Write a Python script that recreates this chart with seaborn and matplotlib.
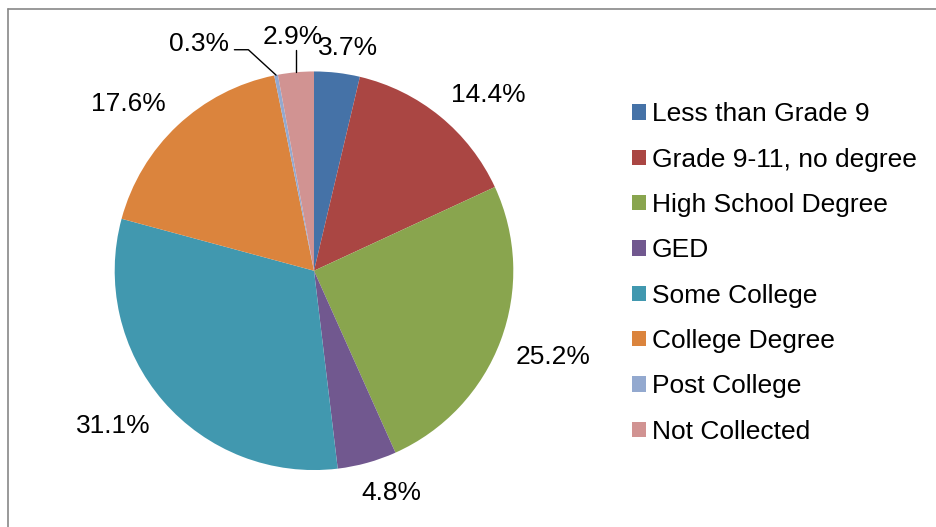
import numpy as np
import matplotlib
matplotlib.use("Agg")
import matplotlib.pyplot as plt
from matplotlib.patches import Patch
from matplotlib.lines import Line2D
import seaborn as sns

# Educational attainment shares (percent)
categories = [
    "Less than Grade 9",
    "Grade 9-11, no degree",
    "High School Degree",
    "GED",
    "Some College",
    "College Degree",
    "Post College",
    "Not Collected",
]
values = [3.7, 14.4, 25.2, 4.8, 31.1, 17.6, 0.3, 2.9]
colors = ["#4572A7", "#AA4643", "#89A54E", "#71588F",
          "#4198AF", "#DB843D", "#93A9CF", "#D19392"]

sns.set_theme(style="white")
plt.rcParams["font.family"] = ["Liberation Sans", "DejaVu Sans"]
plt.rcParams["text.color"] = "black"
label_font = ["Liberation Sans Narrow", "Liberation Sans", "DejaVu Sans"]

W, H = 936, 527
fig = plt.figure(figsize=(W / 100, H / 100), dpi=100)
fig.patch.set_facecolor("white")

# pie axes: centre and radius in pixels
cx, cy, R = 314.0, 270.75, 199.3
ax = fig.add_axes([(cx - R) / W, (H - cy - R) / H, 2 * R / W, 2 * R / H])

palette = sns.color_palette(colors)
wedges, _ = ax.pie(values, colors=palette, startangle=90, counterclock=False,
                   radius=1.0, wedgeprops=dict(linewidth=0))
ax.set_xlim(-1, 1)
ax.set_ylim(-1, 1)
ax.set_aspect("equal")
ax.axis("off")

# small slices get a leader line: (angle shift in degrees, radius, elbow)
callouts = {
    "Post College": (15.6, 1.287, True),
    "Not Collected": (0.0, 1.19, False),
}

fig.canvas.draw()
renderer = fig.canvas.get_renderer()
inv = ax.transData.inverted()

for w, v, cat in zip(wedges, values, categories):
    mid = np.deg2rad((w.theta1 + w.theta2) / 2)
    c, s = np.cos(mid), np.sin(mid)
    text = f"{v:.1f}%"
    if cat in callouts:
        shift, r, elbow = callouts[cat]
        a = mid + np.deg2rad(shift)
        tx, ty = r * np.cos(a), r * np.sin(a)
        t = ax.text(tx, ty, text, ha="center", va="center_baseline",
                    fontsize=19, family=label_font, color="black")
        bb = t.get_window_extent(renderer)
        (x0, y0), (x1, y1) = inv.transform([[bb.x0, bb.y0], [bb.x1, bb.y1]])
        if elbow:
            ly = ty - 0.042
            xs = [x1 + 0.026, x1 + 0.096, c]
            ys = [ly, ly, s]
        else:
            xs = [c, c]
            ys = [s, ty - 0.078]
        ax.add_line(Line2D(xs, ys, color="black", lw=1.0, clip_on=False))
    else:
        tx = 1.08 * c + 0.19 * np.clip(2 * c, -1, 1)
        ty = 1.08 * s + 0.06 * np.clip(2 * s, -1, 1)
        ax.text(tx, ty, text, ha="center", va="center_baseline", fontsize=19,
                family=label_font, color="black")

handles = [Patch(facecolor=col, edgecolor="none") for col in palette]
fig.legend(handles, categories, loc="center left",
           bbox_to_anchor=(632 / W, 1 - 273 / H), frameon=False,
           fontsize=19, handlelength=0.52, handleheight=0.52,
           handletextpad=0.23, labelspacing=0.81, borderpad=0,
           borderaxespad=0, labelcolor="black")

# chart-area border (top and left edges)
border = "#878787"
fig.add_artist(Line2D([8 / W, 1.0], [1 - 8.5 / H, 1 - 8.5 / H],
                      transform=fig.transFigure, color=border, lw=1.2))
fig.add_artist(Line2D([8 / W, 8 / W], [0.0, 1 - 8.5 / H],
                      transform=fig.transFigure, color=border, lw=1.2))

fig.savefig("out.png", dpi=100, facecolor="white")
